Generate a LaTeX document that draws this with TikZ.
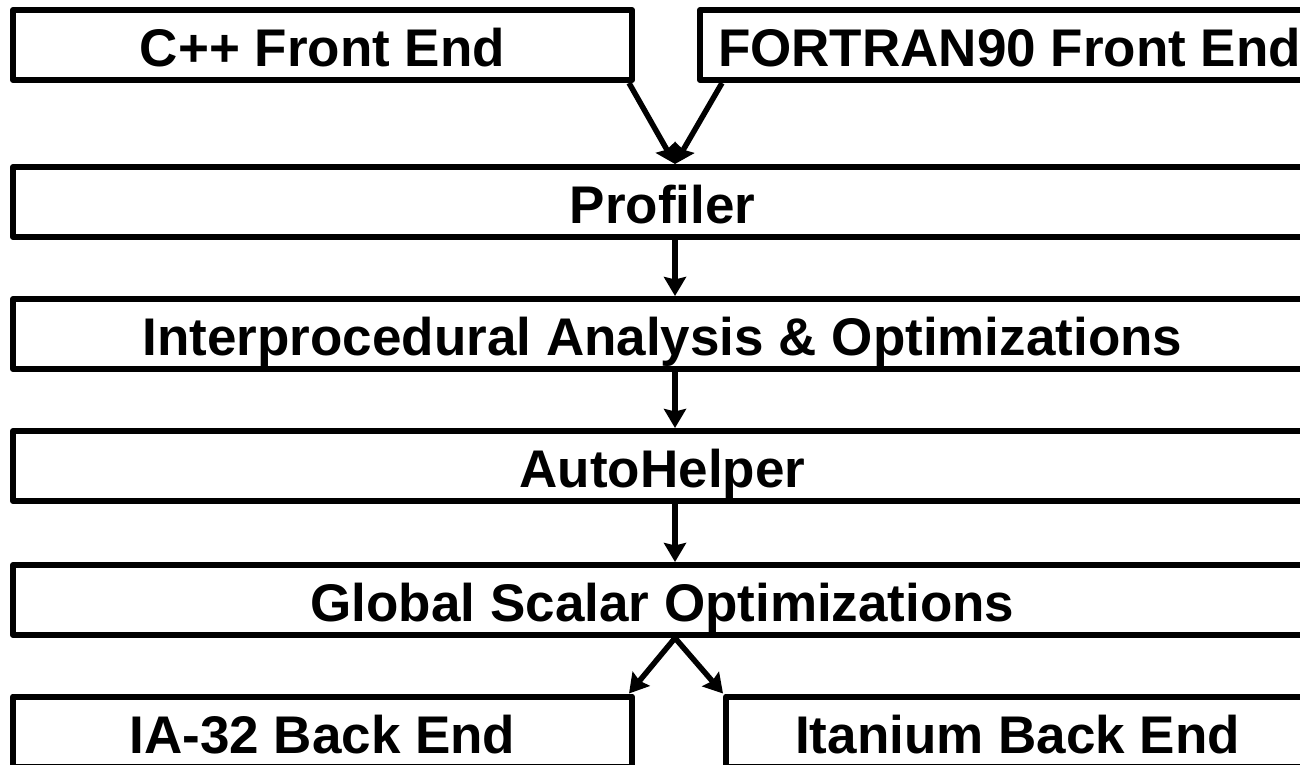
\documentclass[tikz,border=0pt]{standalone}
\usepackage{fontspec}
\setmainfont{Liberation Sans}
\usetikzlibrary{arrows.meta,calc}

\begin{document}
\begin{tikzpicture}[x=1pt,y=-1pt,
  stage/.style={draw, line width=6pt, line join=round, inner sep=0pt,
    outer sep=3pt, minimum height=70pt,
    font=\fontsize{53}{60}\selectfont\bfseries,
    text height=43pt, text depth=0pt},
  flow/.style={line width=5.5pt,
    -{Stealth[length=19pt,width=22pt,inset=2.5pt]}}]
\useasboundingbox (0,0) rectangle (1300,765);
\clip (0,0) rectangle (1300,765);

% front ends
\node[stage, minimum width=619pt] (cpp) at (322.5,45) {C++ Front End};
\node[stage, minimum width=619pt] (f90) at (1009.5,45) {FORTRAN90 Front End};

% compiler pipeline
\node[stage, minimum width=1299pt] (prof) at (662.5,202) {Profiler};
\node[stage, minimum width=1299pt] (ipa)  at (662.5,334) {Interprocedural Analysis \& Optimizations};
\node[stage, minimum width=1299pt] (ahlp) at (662.5,466) {AutoHelper};
\node[stage, minimum width=1299pt] (gso)  at (662.5,600) {Global Scalar Optimizations};

% back ends
\node[stage, minimum width=619pt] (ia32) at (322.5,731.5) {IA-32 Back End};
\node[stage, minimum width=583pt] (itan) at (1017.5,731.5) {Itanium Back End};

% vertical line of the arrows
\coordinate (spine) at (675,0);

\draw[flow] ($(cpp.south east)+(-6,0)$) -- (prof.north -| spine);
\draw[flow] ($(f90.south west)+(25,0)$) -- (prof.north -| spine);
\draw[flow] (prof.south -| spine) -- (ipa.north -| spine);
\draw[flow] (ipa.south -| spine) -- (ahlp.north -| spine);
\draw[flow] (ahlp.south -| spine) -- (gso.north -| spine);
\draw[flow] (gso.south -| spine) -- ($(ia32.north east)+(-6,0)$);
\draw[flow] (gso.south -| spine) -- (itan.north west);
\end{tikzpicture}
\end{document}
